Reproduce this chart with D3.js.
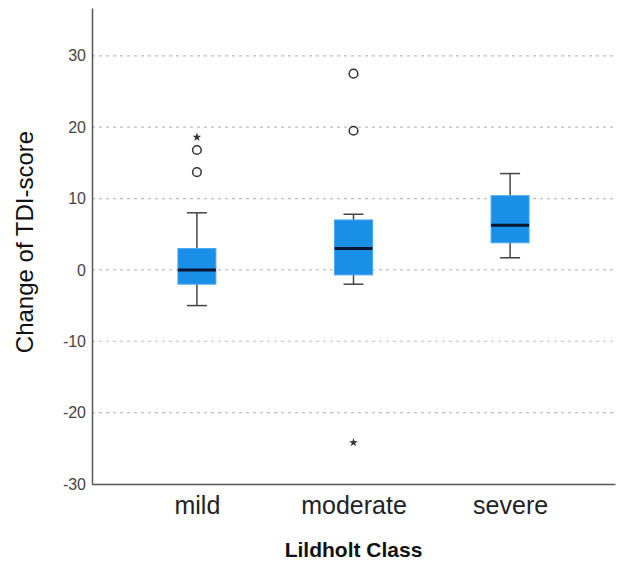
<!DOCTYPE html>
<html>
<head>
<meta charset="utf-8">
<script src="https://cdn.jsdelivr.net/npm/d3@7"></script>
<style>
  body { margin: 0; background: #fff; }
  svg { display: block; font-family: "Liberation Sans", Arial, sans-serif; }
</style>
</head>
<body>
<div id="svg-container"></div>
<script>
////////////////////////////////////////////////////////////////////
////////////////////////////  Data  ////////////////////////////////
const categories = ["mild", "moderate", "severe"];
// [lower whisker, Q1, median, Q3, upper whisker]
const boxStats = [
  [-5, -2, 0, 3, 8],
  [-2, -0.7, 3, 7, 7.8],
  [1.7, 3.8, 6.25, 10.4, 13.5],
];
const circleOutliers = [[13.7, 16.8], [19.5, 27.5], []];
const starOutliers = [[18.6], [-24.2], []];
const yTicks = [-30, -20, -10, 0, 10, 20, 30];

////////////////////////////////////////////////////////////////////
////////////////////////////  Init  ////////////////////////////////
const width = 622;
const height = 561;
const margin = { top: 8, right: 7, bottom: 77, left: 92 };

const svg = d3
  .select("#svg-container")
  .append("svg")
  .attr("width", width)
  .attr("height", height);

// scale
const xScale = d3
  .scalePoint()
  .domain(categories)
  .range([margin.left, width - margin.right])
  .padding(0.67);
const yScale = d3
  .scaleLinear()
  .domain([-30, 36.7])
  .range([height - margin.bottom, margin.top]);

const boxW = 38;
const capW = 20;

// grid
svg
  .append("g")
  .selectAll("line")
  .data(yTicks.filter((d) => d !== -30))
  .join("line")
  .attr("x1", margin.left)
  .attr("x2", width - margin.right)
  .attr("y1", (d) => yScale(d))
  .attr("y2", (d) => yScale(d))
  .attr("stroke", "#bdbdbd")
  .attr("stroke-width", 1.2)
  .attr("stroke-dasharray", "3,4");

// axis
const yAxis = d3
  .axisLeft(yScale)
  .tickValues(yTicks)
  .tickFormat((d) => String(d)) // plain hyphen like the original
  .tickSize(0)
  .tickPadding(6);
const yG = svg
  .append("g")
  .attr("transform", `translate(${margin.left},0)`)
  .call(yAxis);
yG.select(".domain").attr("stroke", "#555").attr("stroke-width", 1.5);
yG.selectAll("text").attr("font-size", 16).attr("fill", "#444").attr("font-family", "Liberation Sans, Arial, sans-serif");

const xAxis = d3.axisBottom(xScale).tickSize(0).tickPadding(12);
const xG = svg
  .append("g")
  .attr("transform", `translate(0,${height - margin.bottom})`)
  .call(xAxis);
xG.select(".domain").attr("stroke", "#555").attr("stroke-width", 1.5);
xG.selectAll("text").attr("font-size", 25).attr("fill", "#222").attr("font-family", "Liberation Sans, Arial, sans-serif");

// titles
svg
  .append("text")
  .attr("transform", `translate(33,242) rotate(-90)`)
  .attr("text-anchor", "middle")
  .attr("font-size", 24)
  .attr("fill", "#111")
  .text("Change of TDI-score");

svg
  .append("text")
  .attr("x", xScale("moderate"))
  .attr("y", 557)
  .attr("text-anchor", "middle")
  .attr("font-size", 21)
  .attr("font-weight", "bold")
  .attr("fill", "#111")
  .text("Lildholt Class");

////////////////////////////////////////////////////////////////////
////////////////////////////  Boxes  ///////////////////////////////
const boxes = svg
  .append("g")
  .selectAll("g")
  .data(categories.map((c, i) => ({ c, s: boxStats[i], o: circleOutliers[i], st: starOutliers[i] })))
  .join("g")
  .attr("transform", (d) => `translate(${xScale(d.c)},0)`);

// whiskers
boxes
  .append("line")
  .attr("y1", (d) => yScale(d.s[0]))
  .attr("y2", (d) => yScale(d.s[4]))
  .attr("stroke", "#444")
  .attr("stroke-width", 1.5);
boxes
  .selectAll(".cap")
  .data((d) => [d.s[0], d.s[4]])
  .join("line")
  .attr("class", "cap")
  .attr("x1", -capW / 2)
  .attr("x2", capW / 2)
  .attr("y1", (d) => yScale(d))
  .attr("y2", (d) => yScale(d))
  .attr("stroke", "#444")
  .attr("stroke-width", 1.5);

// box
boxes
  .append("rect")
  .attr("x", -boxW / 2)
  .attr("width", boxW)
  .attr("y", (d) => yScale(d.s[3]))
  .attr("height", (d) => yScale(d.s[1]) - yScale(d.s[3]))
  .attr("fill", "#1a8fe8")
  .attr("stroke", "#4aa9f2")
  .attr("stroke-width", 1);

// median
boxes
  .append("line")
  .attr("x1", -boxW / 2)
  .attr("x2", boxW / 2)
  .attr("y1", (d) => yScale(d.s[2]))
  .attr("y2", (d) => yScale(d.s[2]))
  .attr("stroke", "#0b1530")
  .attr("stroke-width", 3);

// outliers
boxes
  .selectAll(".out")
  .data((d) => d.o)
  .join("circle")
  .attr("class", "out")
  .attr("cy", (d) => yScale(d))
  .attr("r", 4.3)
  .attr("fill", "#fff")
  .attr("stroke", "#333")
  .attr("stroke-width", 1.5);

boxes
  .selectAll(".star")
  .data((d) => d.st)
  .join("path")
  .attr("class", "star")
  .attr("transform", (d) => `translate(0,${yScale(d)})`)
  .attr("d", d3.symbol(d3.symbolStar, 24))
  .attr("fill", "#333");
</script>
</body>
</html>
